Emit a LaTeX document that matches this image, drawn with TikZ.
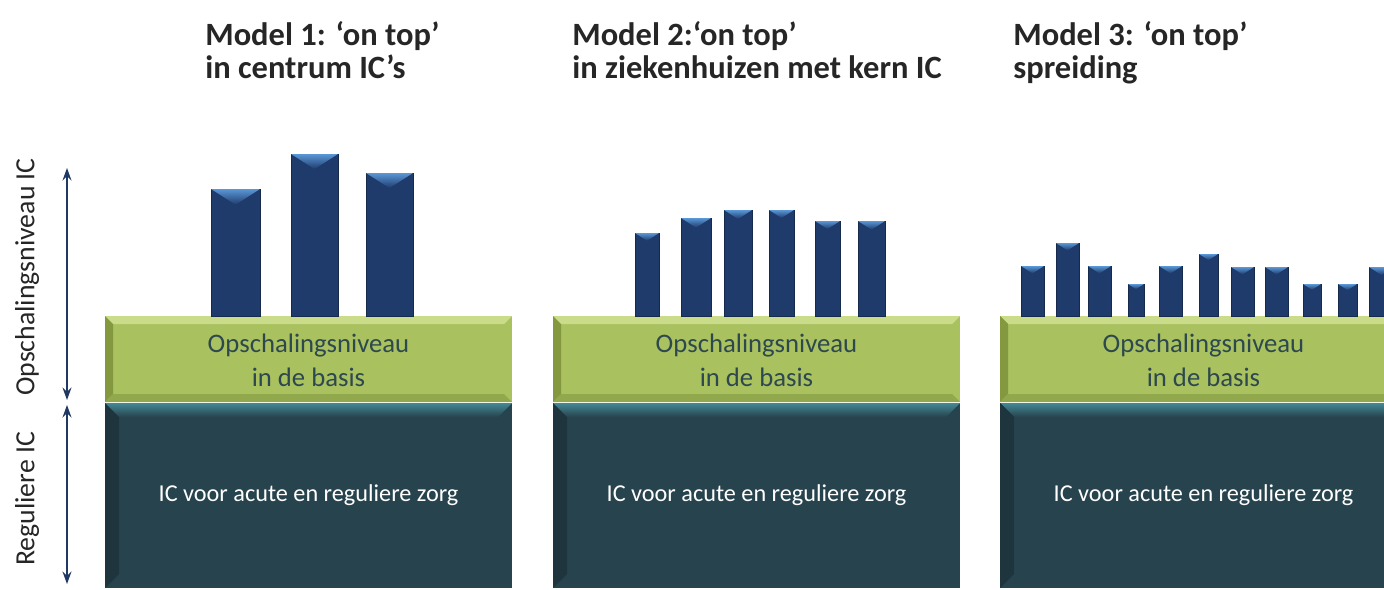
\documentclass[tikz,border=0pt]{standalone}
\usepackage{fontspec}
\setmainfont{Carlito}
\usepackage{tikz}
\usetikzlibrary{arrows.meta}
\definecolor{bar-blue}{HTML}{1F3B6C}
\definecolor{bar-light}{HTML}{5A97D6}
\definecolor{bar-edge}{HTML}{162A4C}
\definecolor{scale-green}{HTML}{A9C15F}
\definecolor{scale-light}{HTML}{CADB8A}
\definecolor{scale-dark}{HTML}{83983F}
\definecolor{core-teal}{HTML}{27434D}
\definecolor{core-light}{HTML}{438995}
\definecolor{core-dark}{HTML}{1E353E}
\definecolor{base-text}{HTML}{2D484E}
\definecolor{axis-navy}{HTML}{203864}
\definecolor{title-gray}{HTML}{262626}

\newcommand{\icbar}[3]{%
  \fill[bar-blue, draw=bar-edge, line width=0.4pt] (#1,#3) rectangle (#2,316);
  \shade[top color=bar-light, bottom color=bar-blue]
    (#1,#3) -- (#2,#3) -- ({(#1+#2)/2},{#3+0.32*(#2-#1)}) -- cycle;
}

\begin{document}
\begin{tikzpicture}[x=0.02cm, y=-0.02cm,
    title/.style={anchor=north west, align=left, inner sep=0pt,
        font=\fontsize{18.5}{18.8}\selectfont\bfseries, text=title-gray},
    basetext/.style={align=center, inner sep=0pt,
        font=\fontsize{15.2}{19.5}\selectfont, text=base-text},
    coretext/.style={inner sep=0pt, font=\fontsize{13.8}{16}\selectfont, text=white},
    axislabel/.style={rotate=90, inner sep=0pt,
        font=\fontsize{15.8}{18}\selectfont, text=title-gray},
    axis/.style={axis-navy, line width=1.2pt,
        {Stealth[length=7pt,width=5pt]}-{Stealth[length=7pt,width=5pt]}},
]
    \clip (0,0) rectangle (1384,589);
    \fill[white] (0,0) rectangle (1384,589);

    % Titles
    \node[title] (title1) at (205,21) {Model 1: ‘on top’\\in centrum IC’s};
    \node[title] (title2) at (572,21) {Model 2:‘on top’\\in ziekenhuizen met kern IC};
    \node[title] (title3) at (1013,21) {Model 3: ‘on top’\\spreiding};

    % Axis
    \coordinate (optop) at (67,168);
    \coordinate (opbot) at (67,400);
    \coordinate (regtop) at (67,405);
    \coordinate (regbot) at (67,584);
    \draw[axis] (optop) -- (opbot);
    \draw[axis] (regtop) -- (regbot);
    \node[axislabel] (lblop) at (27,277) {Opschalingsniveau IC};
    \node[axislabel] (lblreg) at (27,499) {Reguliere IC};

    % Base layers
    \foreach \i/\xa/\xb in {1/105/512, 2/553/960, 3/1000/1407} {
        % green layer
        \fill[scale-green] (\xa,316) rectangle (\xb,402);
        \fill[scale-light] (\xa,316) -- (\xb,316) -- (\xb-8,324) -- (\xa+8,324) -- cycle;
        \fill[scale-dark] (\xa,316) -- (\xa+8,324) -- (\xa+8,394) -- (\xa,402) -- cycle;
        \fill[scale-dark!60!scale-green] (\xa,402) -- (\xa+8,394) -- (\xb-8,394) -- (\xb,402) -- cycle;
        \node[basetext] (base\i) at ({(\xa+\xb)/2},360) {Opschalingsniveau\\in de basis};
        % dark layer
        \fill[core-teal] (\xa,403) rectangle (\xb,588);
        \shade[top color=core-light, bottom color=core-teal]
            (\xa,403) -- (\xb,403) -- (\xb-14,417) -- (\xa+14,417) -- cycle;
        \fill[core-dark] (\xa,403) -- (\xa+14,417) -- (\xa+14,574) -- (\xa,588) -- cycle;
        \node[coretext] (core\i) at ({(\xa+\xb)/2},495) {IC voor acute en reguliere zorg};
    }

    % Model 1 bars
    \foreach \xa/\xb/\yt in {211/260/189, 291/338/154, 366/413/173}
        {\icbar{\xa}{\xb}{\yt}}

    % Model 2 bars
    \foreach \xa/\xb/\yt in {635/659/233, 681/711/218, 724/752/210,
                             769/794/210, 815/840/221, 858/885/221}
        {\icbar{\xa}{\xb}{\yt}}

    % Model 3 bars
    \foreach \xa/\xb/\yt in {1021/1044/266, 1056/1079/243, 1088/1111/266,
                             1128/1144/284, 1159/1182/266, 1199/1218/254,
                             1231/1254/267, 1265/1288/267, 1303/1321/284,
                             1338/1357/284, 1369/1394/267}
        {\icbar{\xa}{\xb}{\yt}}
\end{tikzpicture}
\end{document}
